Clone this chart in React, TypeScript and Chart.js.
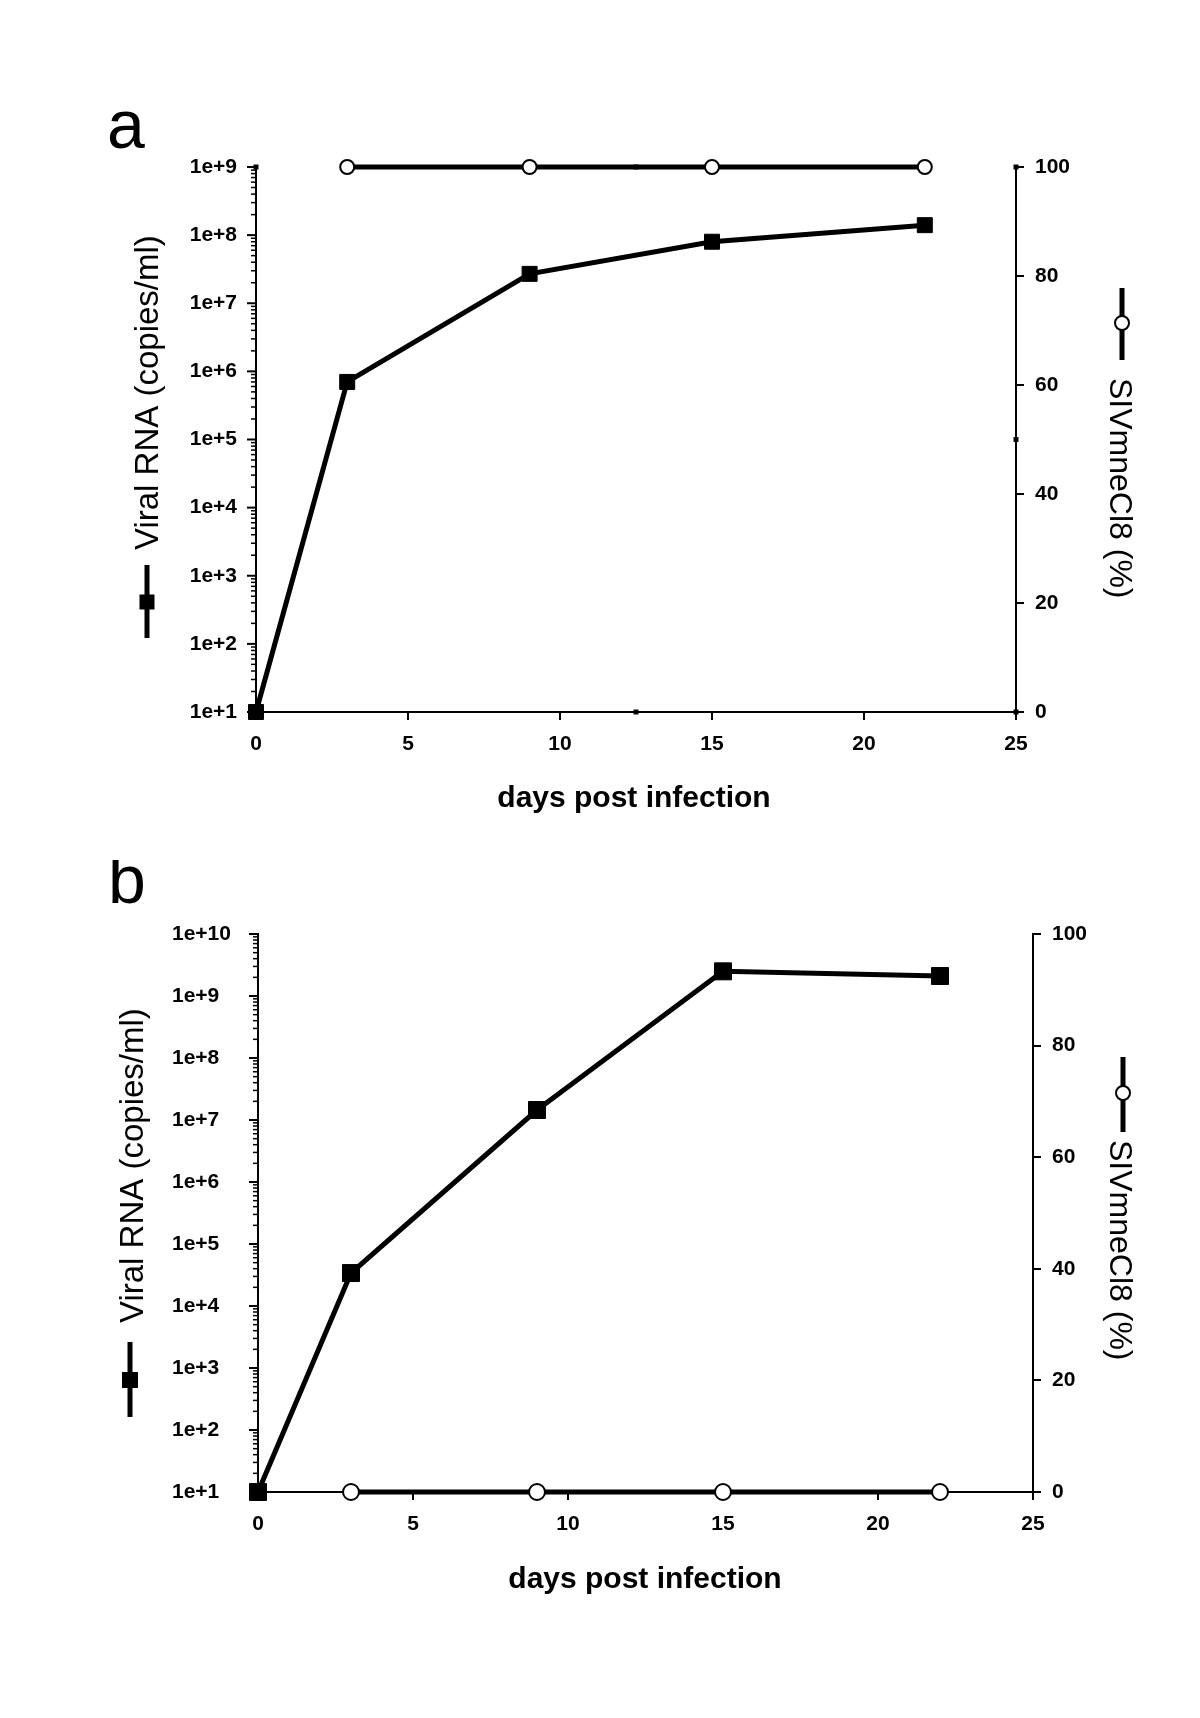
import React, { useEffect, useRef } from 'react';
import { Chart, registerables } from 'chart.js';

Chart.register(...registerables);

const FONT = '"Liberation Sans", Arial, Helvetica, sans-serif';

// ---------- panel a data ----------
const panelADays = [0, 3, 9, 15, 22];
const panelAViralRNA = [10, 7e5, 2.7e7, 8e7, 1.4e8];
const panelACloneDays = [3, 9, 15, 22];
const panelAClonePct = [100, 100, 100, 100];
// small black selection handles visible in the original figure (day, %)
const panelAHandleDays = [0, 12.5, 25, 25, 25, 12.5];
const panelAHandlePct = [100, 100, 100, 50, 0, 0];

// ---------- panel b data ----------
const panelBDays = [0, 3, 9, 15, 22];
const panelBViralRNA = [10, 3.4e4, 1.45e7, 2.5e9, 2.1e9];
const panelBCloneDays = [3, 9, 15, 22];
const panelBClonePct = [0, 0, 0, 0];

// ---------- ticks ----------
const dayTicks = [0, 5, 10, 15, 20, 25];
const dayTickLabels = ['0', '5', '10', '15', '20', '25'];
const pctTicks = [0, 20, 40, 60, 80, 100];
const pctTickLabels = ['0', '20', '40', '60', '80', '100'];
const rnaDecadesA = [1e1, 1e2, 1e3, 1e4, 1e5, 1e6, 1e7, 1e8, 1e9];
const rnaLabelsA = ['1e+1', '1e+2', '1e+3', '1e+4', '1e+5', '1e+6', '1e+7', '1e+8', '1e+9'];
const rnaDecadesB = [1e1, 1e2, 1e3, 1e4, 1e5, 1e6, 1e7, 1e8, 1e9, 1e10];
const rnaLabelsB = ['1e+1', '1e+2', '1e+3', '1e+4', '1e+5', '1e+6', '1e+7', '1e+8', '1e+9', '1e+10'];
const minorMultipliers = [2, 3, 4, 5, 6, 7, 8, 9];

// ---------- text ----------
const panelLetters = ['a', 'b'];
const xTitle = 'days post infection';
const leftTitle = 'Viral RNA (copies/ml)';
const rightTitle = 'SIVmneCl8 (%)';

function logTickValues(decades: number[]) {
  const out: { value: number }[] = [];
  decades.forEach((d, i) => {
    out.push({ value: d });
    if (i < decades.length - 1) minorMultipliers.forEach((m) => out.push({ value: d * m }));
  });
  return out;
}

function decorPlugin(p: any) {
  return {
    id: 'decor',
    afterDraw(chart: any) {
      const ctx = chart.ctx;
      const yL = chart.scales.yL;
      const area = chart.chartArea;
      ctx.save();
      ctx.strokeStyle = '#000';
      ctx.fillStyle = '#000';
      // log axis ticks (major longer)
      yL.ticks.forEach((t: any) => {
        const y = yL.getPixelForValue(t.value);
        const major = p.decades.indexOf(t.value) >= 0;
        ctx.lineWidth = major ? 2 : 1.5;
        const len = major ? 9 : 5;
        ctx.beginPath();
        ctx.moveTo(area.left - len, y);
        ctx.lineTo(area.left, y);
        ctx.stroke();
      });
      // panel letter
      ctx.font = `68px ${FONT}`;
      ctx.textAlign = 'left';
      ctx.textBaseline = 'alphabetic';
      ctx.fillText(p.letter, p.letterX, p.letterY);
      // x title
      ctx.font = `bold 30px ${FONT}`;
      ctx.textAlign = 'center';
      ctx.fillText(xTitle, p.xTitleX, p.xTitleY);
      // left title
      ctx.save();
      ctx.translate(p.leftTitleX, p.leftTitleY);
      ctx.rotate(-Math.PI / 2);
      ctx.font = `33px ${FONT}`;
      ctx.textAlign = 'left';
      ctx.fillText(leftTitle, 0, 0);
      ctx.restore();
      // left legend symbol
      ctx.lineWidth = 5;
      ctx.beginPath();
      ctx.moveTo(p.leftSymX, p.leftSymTop);
      ctx.lineTo(p.leftSymX, p.leftSymBottom);
      ctx.stroke();
      ctx.fillRect(p.leftSymX - p.leftSymSize / 2, p.leftSymY - p.leftSymSize / 2, p.leftSymSize, p.leftSymSize);
      // right title
      ctx.save();
      ctx.translate(p.rightTitleX, p.rightTitleY);
      ctx.rotate(Math.PI / 2);
      ctx.font = `32px ${FONT}`;
      ctx.textAlign = 'left';
      ctx.fillText(rightTitle, 0, 0);
      ctx.restore();
      // right legend symbol
      ctx.lineWidth = 5;
      ctx.beginPath();
      ctx.moveTo(p.rightSymX, p.rightSymTop);
      ctx.lineTo(p.rightSymX, p.rightSymBottom);
      ctx.stroke();
      ctx.beginPath();
      ctx.arc(p.rightSymX, p.rightSymY, p.rightSymR, 0, Math.PI * 2);
      ctx.fillStyle = '#fff';
      ctx.fill();
      ctx.lineWidth = 2;
      ctx.stroke();
      ctx.restore();
    },
  };
}

function buildConfig(p: any) {
  const datasets: any[] = [
    {
      label: rightTitle,
      data: p.cloneDays.map((d: number, i: number) => ({ x: d, y: p.clonePct[i] })),
      yAxisID: 'yR',
      borderColor: '#000',
      borderWidth: 5,
      pointStyle: 'circle',
      pointRadius: p.circleR,
      pointBackgroundColor: '#fff',
      pointBorderColor: '#000',
      pointBorderWidth: 2,
      clip: false,
    },
    {
      label: leftTitle,
      data: p.days.map((d: number, i: number) => ({ x: d, y: p.rna[i] })),
      yAxisID: 'yL',
      borderColor: '#000',
      borderWidth: 5,
      pointStyle: 'rect',
      pointRadius: p.squareR,
      pointBackgroundColor: '#000',
      pointBorderColor: '#000',
      pointBorderWidth: 1,
      clip: false,
    },
  ];
  if (p.handleDays) {
    datasets.push({
      label: 'handles',
      data: p.handleDays.map((d: number, i: number) => ({ x: d, y: p.handlePct[i] })),
      yAxisID: 'yR',
      showLine: false,
      pointStyle: 'rect',
      pointRadius: 3.5,
      pointBackgroundColor: '#000',
      pointBorderColor: '#000',
      pointBorderWidth: 0,
      clip: false,
    });
  }
  const tickFont = { family: FONT, size: 21, weight: 'bold' as const };
  return {
    type: 'line' as const,
    data: { datasets },
    options: {
      animation: false as const,
      responsive: false,
      maintainAspectRatio: false,
      layout: { padding: { top: p.top, left: p.padLeft, right: 0, bottom: 0 } },
      plugins: { legend: { display: false }, tooltip: { enabled: false } },
      scales: {
        x: {
          type: 'linear' as const,
          position: 'bottom' as const,
          min: 0,
          max: 25,
          afterBuildTicks: (s: any) => {
            s.ticks = dayTicks.map((v) => ({ value: v }));
          },
          afterFit: (s: any) => {
            s.height = p.xAxisH;
          },
          ticks: {
            autoSkip: false,
            maxRotation: 0,
            font: tickFont,
            color: '#000',
            padding: 12,
            callback: (v: number) => dayTickLabels[dayTicks.indexOf(v)],
          },
          grid: { drawOnChartArea: false, drawTicks: true, tickLength: 8, color: '#000', lineWidth: 2 },
          border: { display: true, color: '#000', width: 2 },
        },
        yL: {
          type: 'logarithmic' as const,
          position: 'left' as const,
          min: p.decades[0],
          max: p.decades[p.decades.length - 1],
          afterBuildTicks: (s: any) => {
            s.ticks = logTickValues(p.decades);
          },
          afterFit: (s: any) => {
            s.width = p.leftW;
          },
          ticks: {
            autoSkip: false,
            font: tickFont,
            color: '#000',
            padding: 11,
            crossAlign: p.leftCross,
            callback: (v: number) => {
              const i = p.decades.indexOf(v);
              return i >= 0 ? p.decadeLabels[i] : '';
            },
          },
          grid: { drawOnChartArea: false, drawTicks: true, tickLength: 8, color: 'rgba(0,0,0,0)', tickColor: 'rgba(0,0,0,0)' },
          border: { display: true, color: '#000', width: 2 },
        },
        yR: {
          type: 'linear' as const,
          position: 'right' as const,
          min: 0,
          max: 100,
          afterBuildTicks: (s: any) => {
            s.ticks = pctTicks.map((v) => ({ value: v }));
          },
          afterFit: (s: any) => {
            s.width = p.rightW;
          },
          ticks: {
            autoSkip: false,
            font: tickFont,
            color: '#000',
            padding: 11,
            callback: (v: number) => pctTickLabels[pctTicks.indexOf(v)],
          },
          grid: { drawOnChartArea: false, drawTicks: true, tickLength: 8, color: '#000', lineWidth: 2 },
          border: { display: true, color: '#000', width: 2 },
        },
      },
    },
    plugins: [decorPlugin(p)],
  };
}

const panelACfg = {
  days: panelADays,
  rna: panelAViralRNA,
  cloneDays: panelACloneDays,
  clonePct: panelAClonePct,
  handleDays: panelAHandleDays,
  handlePct: panelAHandlePct,
  decades: rnaDecadesA,
  decadeLabels: rnaLabelsA,
  leftCross: 'near',
  padLeft: 0,
  leftW: 256,
  rightW: 184,
  top: 167,
  xAxisH: 148,
  squareR: 10.6,
  circleR: 7,
  letter: panelLetters[0],
  letterX: 107,
  letterY: 148,
  xTitleX: 634,
  xTitleY: 807,
  leftTitleX: 158,
  leftTitleY: 550,
  leftSymX: 147,
  leftSymTop: 565,
  leftSymBottom: 638,
  leftSymY: 602,
  leftSymSize: 15,
  rightTitleX: 1110,
  rightTitleY: 378,
  rightSymX: 1122,
  rightSymTop: 288,
  rightSymBottom: 360,
  rightSymY: 323,
  rightSymR: 7,
};

const panelBCfg = {
  days: panelBDays,
  rna: panelBViralRNA,
  cloneDays: panelBCloneDays,
  clonePct: panelBClonePct,
  handleDays: null,
  handlePct: null,
  decades: rnaDecadesB,
  decadeLabels: rnaLabelsB,
  leftCross: 'far',
  padLeft: 172,
  leftW: 86,
  rightW: 167,
  top: 74,
  xAxisH: 226,
  squareR: 12,
  circleR: 8,
  letter: panelLetters[1],
  letterX: 108,
  letterY: 43,
  xTitleX: 645,
  xTitleY: 728,
  leftTitleX: 143,
  leftTitleY: 463,
  leftSymX: 130,
  leftSymTop: 482,
  leftSymBottom: 557,
  leftSymY: 520,
  leftSymSize: 16,
  rightTitleX: 1110,
  rightTitleY: 280,
  rightSymX: 1123,
  rightSymTop: 197,
  rightSymBottom: 272,
  rightSymY: 233,
  rightSymR: 7,
};

function Panel({ cfg, height }: { cfg: any; height: number }) {
  const ref = useRef<HTMLCanvasElement>(null);
  useEffect(() => {
    const chart = new Chart(ref.current as HTMLCanvasElement, buildConfig(cfg) as any);
    return () => chart.destroy();
  }, [cfg]);
  return (
    <canvas
      ref={ref}
      width={1200}
      height={height}
      style={{ display: 'block', width: 1200, height }}
    />
  );
}

export default function App() {
  return (
    <div style={{ position: 'absolute', left: 0, top: 0, width: 1200, height: 1718, background: '#fff' }}>
      <Panel cfg={panelACfg} height={860} />
      <Panel cfg={panelBCfg} height={858} />
    </div>
  );
}
